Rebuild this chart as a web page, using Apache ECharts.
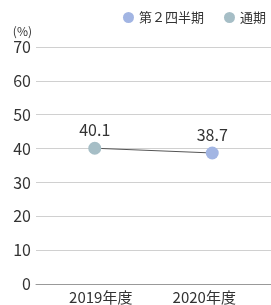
<!DOCTYPE html>
<html>
<head>
<meta charset="utf-8">
<script src="https://cdn.jsdelivr.net/npm/echarts@6/dist/echarts.min.js"></script>
<style>
  html, body { margin: 0; padding: 0; background: #fff; }
  #chart { width: 271px; height: 305px; }
</style>
</head>
<body>
<div id="chart"></div>
<script>
const categories = ['2019年度', '2020年度']
const values = [40.1, 38.7]
// which period each point belongs to
const pointPeriod = ['通期', '第２四半期']
const legendNames = ['第２四半期', '通期']
const colors = { '第２四半期': '#a2b5e3', '通期': '#a6bec6' }

const chart = echarts.init(document.getElementById('chart'))

const font = "'Noto Sans CJK JP', 'Noto Sans', sans-serif"

const scatterSeries = legendNames.map((name) => ({
  name,
  type: 'scatter',
  symbolSize: 13,
  z: 3,
  itemStyle: { color: colors[name], opacity: 1 },
  label: {
    show: true,
    position: 'top',
    distance: 4,
    color: '#333',
    fontSize: 16,
    fontFamily: font,
    formatter: (p) => p.value.toFixed(1),
  },
  data: values.map((v, i) => (pointPeriod[i] === name ? v : '-')),
}))

chart.setOption({
  animation: false,
  textStyle: { fontFamily: font },
  legend: {
    data: legendNames,
    right: 0,
    top: 6,
    icon: 'circle',
    itemWidth: 11,
    itemHeight: 11,
    itemGap: 20,
    textStyle: { color: '#333', fontSize: 13, fontFamily: font },
  },
  grid: { left: 36, right: 0, top: 47, bottom: 21 },
  xAxis: {
    type: 'category',
    data: categories,
    axisTick: { show: false },
    axisLine: { lineStyle: { color: '#999', width: 1 } },
    axisLabel: {
      color: '#333',
      fontSize: 15,
      margin: 6,
      fontFamily: font,
      formatter: (v, i) => (i === 0 ? '{a|' + v + '}' : '{b|' + v + '}'),
      rich: {
        a: { fontSize: 15, color: '#333', padding: [0, 0, 0, 12] },
        b: { fontSize: 15, color: '#333', padding: [0, 16, 0, 0] },
      },
    },
  },
  yAxis: {
    type: 'value',
    min: 0,
    max: 70,
    interval: 10,
    name: '(%)',
    nameLocation: 'end',
    nameGap: 10,
    nameTextStyle: { color: '#333', fontSize: 12, align: 'right', padding: [0, 4, 0, 0] },
    axisLine: { show: false },
    axisTick: { show: false },
    axisLabel: { color: '#333', fontSize: 16, margin: 5, fontFamily: font },
    splitLine: { lineStyle: { color: '#d0d0d0' } },
  },
  series: [
    {
      name: 'line',
      type: 'line',
      symbol: 'none',
      z: 2,
      lineStyle: { color: '#555', width: 1 },
      data: values,
    },
    ...scatterSeries,
  ],
})
</script>
</body>
</html>
